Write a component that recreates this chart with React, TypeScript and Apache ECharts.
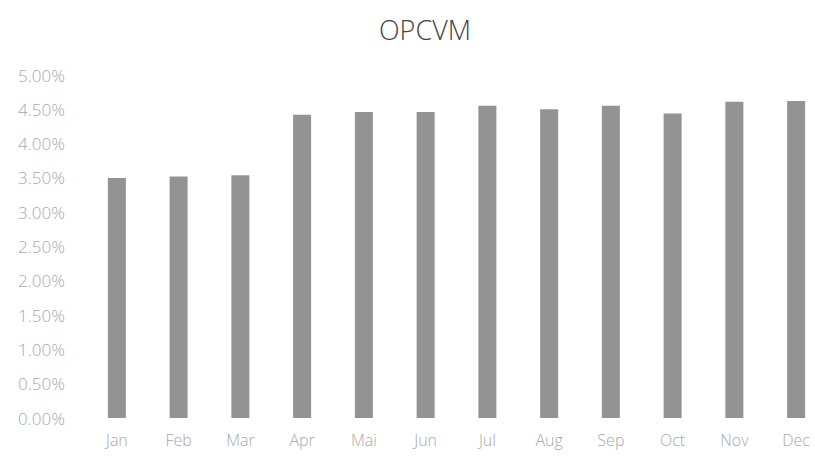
import React, { useEffect, useRef } from "react";
import * as echarts from "echarts";

const months = ["Jan", "Feb", "Mar", "Apr", "Mai", "Jun", "Jul", "Aug", "Sep", "Oct", "Nov", "Dec"];
const values = [3.5, 3.52, 3.54, 4.42, 4.46, 4.46, 4.55, 4.5, 4.55, 4.44, 4.61, 4.62];
const titleText = "OPCVM";

export default function App() {
  const ref = useRef<HTMLDivElement>(null);
  useEffect(() => {
    if (!ref.current) return;
    const chart = echarts.init(ref.current, undefined, { renderer: "svg" });
    chart.setOption({
      animation: false,
      backgroundColor: "#ffffff",
      graphic: [
        {
          type: "text",
          x: 425,
          y: 29,
          style: {
            text: titleText,
            fontFamily: "Open Sans",
            fontWeight: 300,
            fontSize: 27,
            fill: "#444444",
            textAlign: "center",
            textVerticalAlign: "middle",
          },
        },
      ],
      grid: { left: 86, right: 0, top: 75, bottom: 38 },
      xAxis: {
        type: "category",
        data: months,
        axisLine: { show: false },
        axisTick: { show: false },
        axisLabel: { color: "#a8a8a8", fontSize: 16, fontFamily: "Open Sans", fontWeight: 300, margin: 14 },
      },
      yAxis: {
        type: "value",
        min: 0,
        max: 5,
        interval: 0.5,
        splitLine: { show: false },
        axisLine: { show: false },
        axisTick: { show: false },
        axisLabel: {
          color: "#a8a8a8",
          fontSize: 17,
          fontFamily: "Open Sans",
          fontWeight: 300,
          margin: 21,
          formatter: (v: number) => v.toFixed(2) + "%",
        },
      },
      series: [
        {
          type: "bar",
          data: values,
          barWidth: 18,
          itemStyle: { color: "#939393" },
        },
      ],
    });
    return () => chart.dispose();
  }, []);
  return (
    <div style={{ width: 815, height: 456, position: "absolute", left: 0, top: 0, overflow: "hidden" }}>
      <div ref={ref} style={{ width: 827, height: 456 }} />
    </div>
  );
}
